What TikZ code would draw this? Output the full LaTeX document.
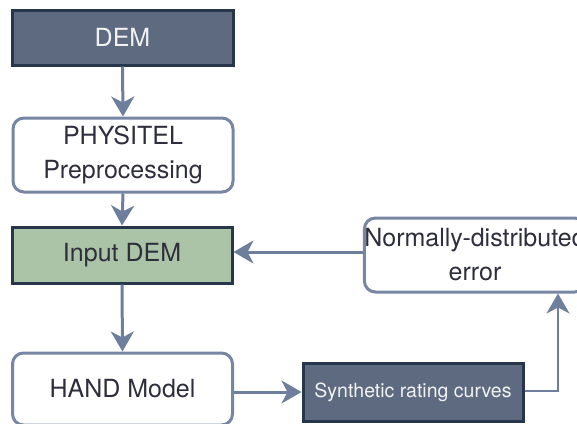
\documentclass[tikz,border=0pt]{standalone}
\usepackage{fontspec}
\setmainfont{TeX Gyre Heros}
\usetikzlibrary{arrows.meta}
\definecolor{darkfill}{HTML}{5D6A7F}
\definecolor{darkline}{HTML}{27364A}
\definecolor{greenfill}{HTML}{ABC3A6}
\definecolor{softline}{HTML}{7787A3}
\definecolor{arrowcol}{HTML}{6E7F9D}
\definecolor{txtdark}{HTML}{2E2E3C}
\begin{document}
\begin{tikzpicture}[x=1pt,y=-1pt,
  darkbox/.style={draw=darkline, fill=darkfill, line width=3pt, text=white!95!black, minimum width=221pt, inner sep=0pt, align=center},
  greenbox/.style={draw=darkline, fill=greenfill, line width=3pt, text=txtdark, minimum width=220pt, minimum height=56pt, inner sep=0pt, align=center},
  softbox/.style={draw=softline, fill=white, line width=3pt, rounded corners=11pt, text=txtdark, minimum width=220pt, inner sep=0pt, align=center},
  big/.style={font=\fontsize{25}{34}\selectfont},
  flow/.style={draw=arrowcol, line width=3pt, -{Stealth[length=20pt, width=23pt, inset=6pt]}},
  thinflow/.style={draw=arrowcol, line width=2.2pt, -{Stealth[length=20pt, width=23pt, inset=6pt]}}
]
\useasboundingbox (0,0) rectangle (577,423);
\clip (0,0) rectangle (577,423);
\fill[white] (0,0) rectangle (577,423);

\node[darkbox, big, minimum height=55pt] (dem) at (122.5,37.5) {DEM};
\node[softbox, big, minimum height=74pt] (phys) at (123,155) {PHYSITEL\\Preprocessing};
\node[greenbox, big] (input) at (122,255) {Input DEM};
\node[softbox, big, minimum height=72pt] (hand) at (122.5,389) {HAND Model};
\node[darkbox, font=\fontsize{19.5}{24}\selectfont, minimum width=220pt, minimum height=58pt] (syn) at (413,392) {Synthetic rating curves};
\node[softbox, big, minimum height=74pt] (err) at (475,255) {Normally-distributed\\error};

\draw[flow] (dem.south) -- (phys.north);
\draw[flow] (phys.south) -- (input.north);
\draw[flow] (input.south) -- (hand.north);
\draw[flow] (err.west |- 0,252) -- (input.east |- 0,252);
\draw[flow] (hand.east |- 0,392) -- (syn.west |- 0,392);
\coordinate (turn) at (558,391);
\draw[thinflow] (syn.east |- 0,391) -- (turn) -- (turn |- err.south);
\end{tikzpicture}
\end{document}
